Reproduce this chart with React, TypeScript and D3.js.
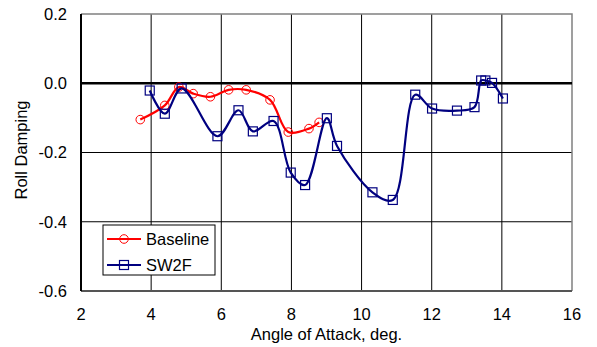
import React, { useEffect, useRef } from 'react';
import * as d3 from 'd3';

// Baseline series
const baselineAoa = [3.69, 4.39, 4.79, 5.2, 5.69, 6.21, 6.71, 7.39, 7.91, 8.5, 8.79];
const baselineDamp = [-0.105, -0.064, -0.011, -0.03, -0.039, -0.019, -0.019, -0.048, -0.141, -0.131, -0.113];

// SW2F series
const sw2fAoa = [3.96, 4.39, 4.87, 5.89, 6.49, 6.9, 7.49, 7.98, 8.39, 9.01, 9.3, 10.31, 10.89, 11.53, 12.01, 12.72, 13.22, 13.41, 13.53, 13.72, 14.03];
const sw2fDamp = [-0.021, -0.088, -0.015, -0.153, -0.078, -0.139, -0.109, -0.258, -0.294, -0.101, -0.181, -0.315, -0.337, -0.033, -0.073, -0.079, -0.069, 0.008, 0.008, 0.001, -0.044];

const xTicks = [2, 4, 6, 8, 10, 12, 14, 16];
const yTicks = [-0.6, -0.4, -0.2, 0, 0.2];
const yTickLabels = ['-0.6', '-0.4', '-0.2', '0.0', '0.2'];

const WIDTH = 597;
const HEIGHT = 347;

type Pt = { x: number; y: number };

export default function App() {
  const ref = useRef<SVGSVGElement | null>(null);

  useEffect(() => {
    const svg = d3.select(ref.current);
    svg.selectAll('*').remove();

    const margin = { top: 14, right: 25, bottom: 56, left: 81 };
    const width = WIDTH - margin.left - margin.right;
    const height = HEIGHT - margin.top - margin.bottom;
    const font = 'Liberation Sans, Arial, sans-serif';
    const fs = 16.5;

    const g = svg.append('g').attr('transform', `translate(${margin.left},${margin.top})`);

    const x = d3.scaleLinear().domain([2, 16]).range([0, width]);
    const y = d3.scaleLinear().domain([-0.6, 0.2]).range([height, 0]);

    // grid lines
    g.append('g')
      .selectAll('line')
      .data(xTicks.slice(1, -1))
      .join('line')
      .attr('x1', d => x(d))
      .attr('x2', d => x(d))
      .attr('y1', 0)
      .attr('y2', height)
      .attr('stroke', '#000')
      .attr('stroke-width', 1);

    g.append('g')
      .selectAll('line')
      .data(yTicks.filter(d => d !== 0 && d !== 0.2 && d !== -0.6))
      .join('line')
      .attr('x1', 0)
      .attr('x2', width)
      .attr('y1', d => y(d))
      .attr('y2', d => y(d))
      .attr('stroke', '#000')
      .attr('stroke-width', 1);

    // top and right border
    g.append('path')
      .attr('d', `M0,${y(0.2)}H${x(16)}V${y(-0.6)}`)
      .attr('fill', 'none')
      .attr('stroke', '#808080')
      .attr('stroke-width', 1.5);

    // bottom axis
    g.append('line')
      .attr('x1', 0)
      .attr('x2', width)
      .attr('y1', height)
      .attr('y2', height)
      .attr('stroke', '#555')
      .attr('stroke-width', 2);

    // zero line
    g.append('line')
      .attr('x1', 0)
      .attr('x2', width)
      .attr('y1', y(0))
      .attr('y2', y(0))
      .attr('stroke', '#000')
      .attr('stroke-width', 2.5);

    // left axis
    g.append('line')
      .attr('x1', 0)
      .attr('x2', 0)
      .attr('y1', 0)
      .attr('y2', height)
      .attr('stroke', '#000')
      .attr('stroke-width', 2);

    // tick labels
    g.append('g')
      .selectAll('text')
      .data(xTicks)
      .join('text')
      .attr('x', d => x(d))
      .attr('y', height + 29)
      .attr('text-anchor', 'middle')
      .attr('font-family', font)
      .attr('font-size', fs)
      .text(d => d);

    g.append('g')
      .selectAll('text')
      .data(yTicks)
      .join('text')
      .attr('x', -14)
      .attr('y', d => y(d))
      .attr('dy', '0.35em')
      .attr('text-anchor', 'end')
      .attr('font-family', font)
      .attr('font-size', fs)
      .text((d, i) => yTickLabels[i]);

    // axis titles
    svg.append('text')
      .attr('x', margin.left + width / 2)
      .attr('y', 340)
      .attr('text-anchor', 'middle')
      .attr('font-family', font)
      .attr('font-size', fs)
      .text('Angle of Attack, deg.');

    svg.append('text')
      .attr('transform', 'translate(27,150) rotate(-90)')
      .attr('text-anchor', 'middle')
      .attr('font-family', font)
      .attr('font-size', fs)
      .text('Roll Damping');

    const line = d3
      .line<Pt>()
      .x(d => x(d.x))
      .y(d => y(d.y))
      .curve(d3.curveCatmullRom.alpha(0.5));

    const baseline: Pt[] = baselineAoa.map((a, i) => ({ x: a, y: baselineDamp[i] }));
    const sw2f: Pt[] = sw2fAoa.map((a, i) => ({ x: a, y: sw2fDamp[i] }));

    // Baseline
    g.append('path')
      .datum(baseline)
      .attr('fill', 'none')
      .attr('stroke', '#ff0000')
      .attr('stroke-width', 2.2)
      .attr('d', line);
    g.append('g')
      .selectAll('circle')
      .data(baseline)
      .join('circle')
      .attr('cx', d => x(d.x))
      .attr('cy', d => y(d.y))
      .attr('r', 4.3)
      .attr('fill', 'none')
      .attr('stroke', '#ff0000')
      .attr('stroke-width', 1);

    // SW2F
    g.append('path')
      .datum(sw2f)
      .attr('fill', 'none')
      .attr('stroke', '#000080')
      .attr('stroke-width', 2.2)
      .attr('d', line);
    g.append('g')
      .selectAll('rect')
      .data(sw2f)
      .join('rect')
      .attr('x', d => x(d.x) - 4.5)
      .attr('y', d => y(d.y) - 4.5)
      .attr('width', 9)
      .attr('height', 9)
      .attr('fill', 'none')
      .attr('stroke', '#000080')
      .attr('stroke-width', 1.2);

    // legend
    const lg = svg.append('g').attr('transform', 'translate(103,225)');
    lg.append('rect')
      .attr('width', 112)
      .attr('height', 50)
      .attr('fill', '#fff')
      .attr('stroke', '#000')
      .attr('stroke-width', 1);

    const entries = [
      { name: 'Baseline', color: '#ff0000', shape: 'circle' },
      { name: 'SW2F', color: '#000080', shape: 'square' },
    ];
    entries.forEach((e, i) => {
      const cy = 14 + i * 26;
      lg.append('line')
        .attr('x1', 4)
        .attr('x2', 38)
        .attr('y1', cy)
        .attr('y2', cy)
        .attr('stroke', e.color)
        .attr('stroke-width', 2.2);
      if (e.shape === 'circle') {
        lg.append('circle')
          .attr('cx', 21)
          .attr('cy', cy)
          .attr('r', 4.3)
          .attr('fill', 'none')
          .attr('stroke', e.color)
          .attr('stroke-width', 1);
      } else {
        lg.append('rect')
          .attr('x', 16.5)
          .attr('y', cy - 4.5)
          .attr('width', 9)
          .attr('height', 9)
          .attr('fill', 'none')
          .attr('stroke', e.color)
          .attr('stroke-width', 1.2);
      }
      lg.append('text')
        .attr('x', 43)
        .attr('y', cy)
        .attr('dy', '0.35em')
        .attr('font-family', font)
        .attr('font-size', fs)
        .text(e.name);
    });
  }, []);

  return (
    <div style={{ position: 'absolute', left: 0, top: 0 }}>
      <svg ref={ref} width={WIDTH} height={HEIGHT} style={{ display: 'block', background: '#fff' }} />
    </div>
  );
}
